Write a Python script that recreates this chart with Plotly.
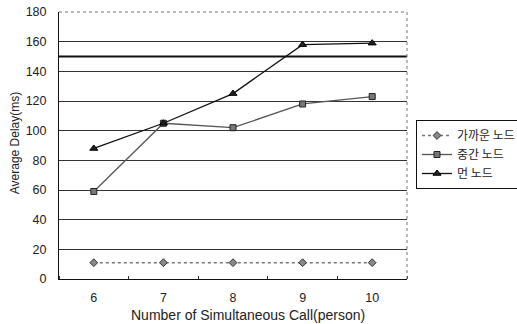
import plotly.graph_objects as go

calls = [6, 7, 8, 9, 10]
near_node = [11, 11, 11, 11, 11]
mid_node = [59, 105, 102, 118, 123]
far_node = [88, 105, 125, 158, 159]
y_ticks = [0, 20, 40, 60, 80, 100, 120, 140, 160, 180]

fig = go.Figure()
fig.add_trace(go.Scatter(
    x=calls, y=near_node, name="가까운 노드", mode="lines+markers",
    line=dict(color="#777777", width=1.5, dash="dot"),
    marker=dict(symbol="diamond", size=6, color="#888888", line=dict(color="#333333", width=1)),
))
fig.add_trace(go.Scatter(
    x=calls, y=mid_node, name="중간 노드", mode="lines+markers",
    line=dict(color="#555555", width=1.3),
    marker=dict(symbol="square", size=6, color="#777777", line=dict(color="#222222", width=1)),
))
fig.add_trace(go.Scatter(
    x=calls, y=far_node, name="먼 노드", mode="lines+markers",
    line=dict(color="#111111", width=1.3),
    marker=dict(symbol="triangle-up", size=7, color="#222222", line=dict(color="#000000", width=1)),
))

# heavy reference line at 150 ms
fig.add_shape(type="line", xref="paper", x0=0, x1=1, yref="y", y0=150, y1=150,
              line=dict(color="#111111", width=2), layer="below")
# dotted frame on the top and right sides
fig.add_shape(type="line", xref="paper", x0=0, x1=1, yref="paper", y0=1, y1=1,
              line=dict(color="#777777", width=1, dash="dot"))
fig.add_shape(type="line", xref="paper", x0=1, x1=1, yref="paper", y0=0, y1=1,
              line=dict(color="#777777", width=1, dash="dot"))

# axis titles
fig.add_annotation(text="Number of Simultaneous Call(person)", xref="paper", yref="paper",
                   x=0.542, y=-0.133, xanchor="center", yanchor="middle", showarrow=False,
                   font=dict(size=14, color="#222222"))
fig.add_annotation(text="Average Delay(ms)", xref="paper", yref="paper",
                   x=-0.126, y=0.509, xanchor="center", yanchor="middle", showarrow=False,
                   textangle=-90, font=dict(size=12, color="#222222"))

fig.update_layout(
    width=517, height=324,
    margin=dict(l=59, r=110, t=12, b=45),
    paper_bgcolor="white", plot_bgcolor="white",
    font=dict(family="Liberation Sans, Arial, sans-serif", size=12.5, color="#222222"),
    showlegend=True,
    legend=dict(
        xref="container", yref="container",
        x=416 / 517, y=1 - 120 / 324, xanchor="left", yanchor="top",
        bordercolor="#111111", borderwidth=1, bgcolor="white",
        font=dict(family="Noto Sans CJK KR, sans-serif", size=12, color="#222222"),
        tracegroupgap=0, itemwidth=30,
    ),
    xaxis=dict(
        automargin=False,
        range=[5.5, 10.5], tickvals=calls, ticks="", showgrid=False,
        showline=True, linecolor="#111111", linewidth=1, zeroline=False,
        ticklabelstandoff=7,
        minor=dict(tick0=5.5, dtick=1, ticks="inside", ticklen=3, tickcolor="#333333", showgrid=False),
    ),
    yaxis=dict(
        automargin=False,
        range=[0, 180], tickvals=y_ticks, showgrid=True, gridcolor="#333333", gridwidth=1,
        showline=True, linecolor="#111111", linewidth=1, zeroline=False,
        ticks="", ticklabelstandoff=9,
    ),
)

fig.write_html("out.html")
